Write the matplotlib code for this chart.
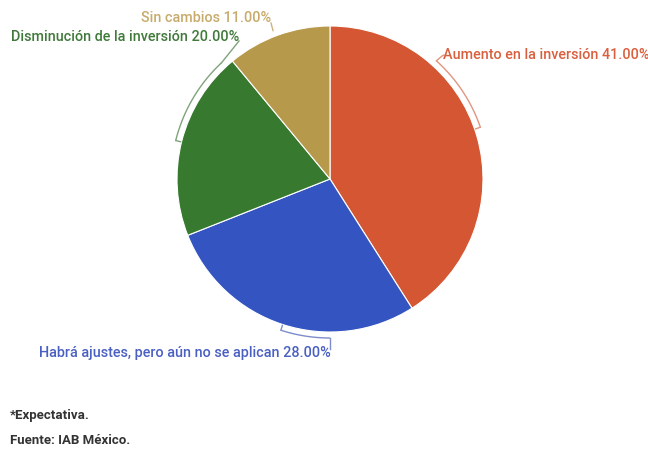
import numpy as np
import matplotlib.pyplot as plt

plt.rcParams['font.family'] = ['Roboto', 'DejaVu Sans']

# datos
categorias = ['Aumento en la inversión', 'Habrá ajustes, pero aún no se aplican',
              'Disminución de la inversión', 'Sin cambios']
valores = [41.0, 28.0, 20.0, 11.0]
colores = ['#D55633', '#3354C1', '#377A2F', '#B7994B']
colores_texto = ['#D9603F', '#4A5FC2', '#3F7A3A', '#C8AB6C']
colores_linea = ['#E29580', '#7D8DCC', '#7FA37A', '#CDB380']
notas = ['*Expectativa.', 'Fuente: IAB México.']

W, H = 648, 450
fig = plt.figure(figsize=(6.48, 4.5), dpi=100)
ax = fig.add_axes([0, 0, 1, 1])

cx, cy, R = 330, H - 179, 153
ax.pie(valores, colors=colores, startangle=90, counterclock=False,
       center=(cx, cy), radius=R, frame=True,
       wedgeprops=dict(edgecolor='white', linewidth=0.8))
ax.set_xlim(0, W)
ax.set_ylim(0, H)
ax.set_aspect('equal')
ax.axis('off')


def punto(theta, r):
    t = np.radians(theta)
    return cx + r * np.sin(t), cy + r * np.cos(t)


# corchetes: (ang. con marca, ang. del otro extremo, posicion del texto, alineacion)
corchetes = [
    (71, 42, (443, H - 55), 'left'),
    (198, 180, (331, H - 353), 'right'),
    (284, 317, (239, H - 37), 'right'),
    (341, 339, (271, H - 18), 'right'),
]
Ra = R + 6
for i, (a0, a1, (tx, ty), ha) in enumerate(corchetes):
    c = colores_linea[i]
    x1, y1 = punto(a1, Ra)
    if i == 3:
        ax.plot([x1, tx], [y1, ty - 5], color=c, lw=1.0)
    else:
        th = np.linspace(a0, a1, 40)
        xs, ys = punto(th, Ra)
        ax.plot(xs, ys, color=c, lw=1.0, solid_capstyle='butt')
        x0, y0 = punto(a0, Ra)
        x0i, y0i = punto(a0, R + 1)
        ax.plot([x0, x0i], [y0, y0i], color=c, lw=1.0)
        if i == 0:
            ax.plot([x1, tx - 1, tx + 1], [y1, ty - 1, ty], color=c, lw=1.0)
        elif i == 1:
            ax.plot([x1, x1], [y1, ty + 4], color=c, lw=1.0)
        else:
            ax.plot([x1, tx], [y1, ty - 4], color=c, lw=1.0)
    ax.text(tx, ty, f'{categorias[i]} {valores[i]:.2f}%', color=colores_texto[i],
            fontsize=10.4, fontweight='medium', ha=ha, va='center')

ax.text(10, H - 416, notas[0], fontsize=9.5, fontweight='bold', color='#333333',
        ha='left', va='center')
ax.text(10, H - 441, notas[1], fontsize=9.5, fontweight='bold', color='#333333',
        ha='left', va='center')

fig.savefig('out.png', dpi=100, facecolor='white')
